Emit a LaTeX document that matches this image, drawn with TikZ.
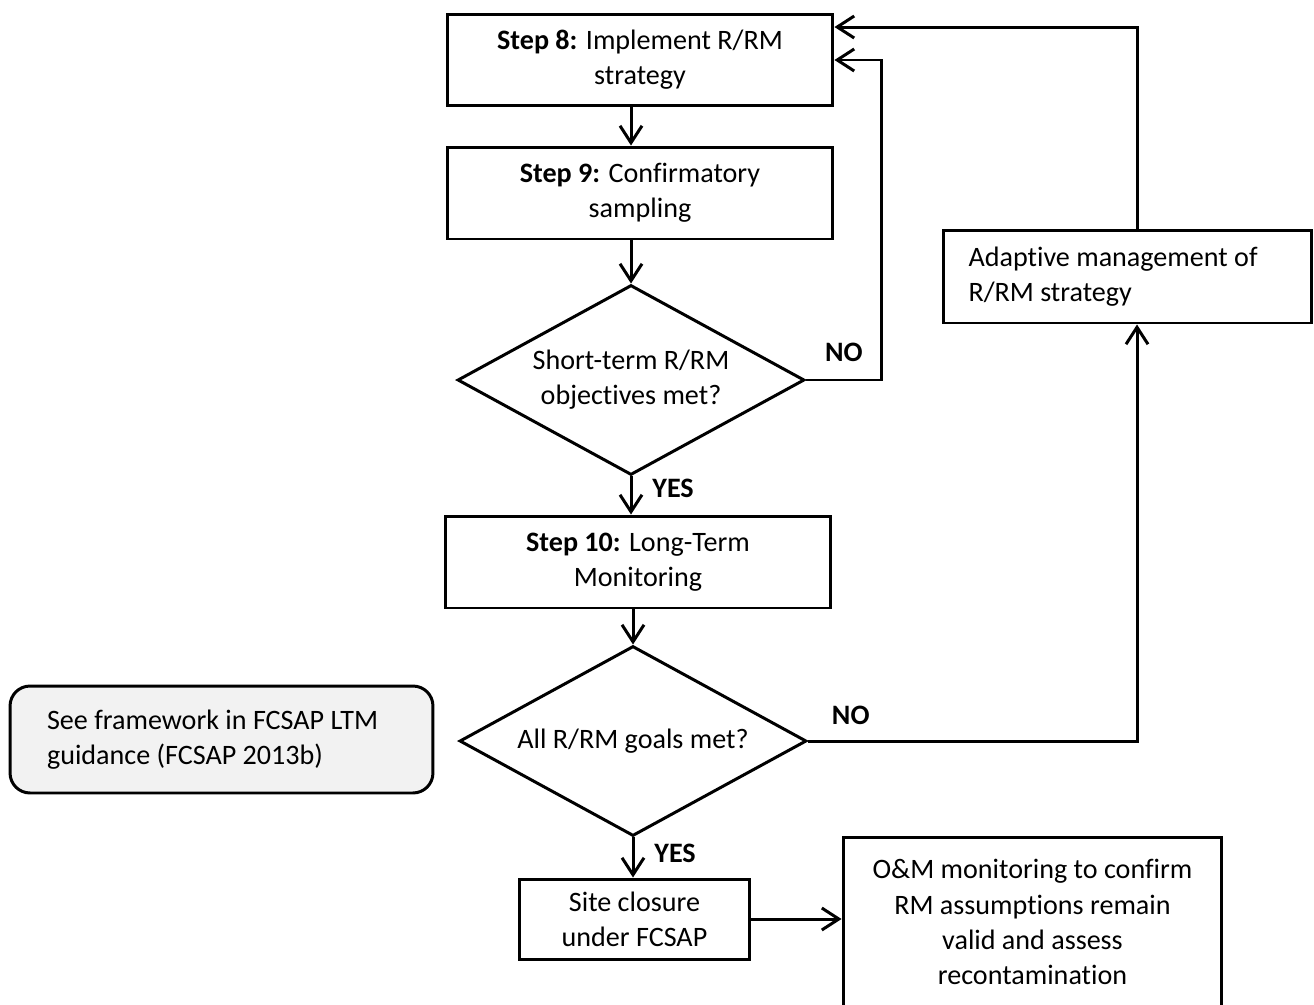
\documentclass[tikz,border=0pt]{standalone}
\usepackage{fontspec}
\setmainfont{Carlito}[Ligatures=NoCommon]
\usetikzlibrary{shapes.geometric,arrows.meta}

\begin{document}
\begin{tikzpicture}[x=0.02cm, y=-0.02cm,
                every node/.style={font=\fontsize{16pt}{20pt}\selectfont},
                stepbox/.style={draw, line width=1.7pt, minimum width=7.72cm, minimum height=1.84cm, align=center},
                decision/.style={draw, diamond, line width=1.7pt, aspect=1.83, inner sep=0pt, minimum width=6.94cm, minimum height=3.8cm, align=center},
                notebox/.style={draw, line width=1.7pt, align=flush left, inner xsep=0.5cm, minimum height=1.86cm},
                arr/.style={line width=1.7pt, -{Straight Barb[length=0.34cm, width=0.44cm]}},
                lbl/.style={font=\fontsize{16pt}{20pt}\selectfont\bfseries}]
                \useasboundingbox (0,0) rectangle (1314,1004);

                \node[stepbox] (S8) at (640,60) {\textbf{Step 8:} Implement R/RM\\strategy};
                \node[stepbox] (S9) at (640,193) {\textbf{Step 9:} Confirmatory\\sampling};
                \node[decision] (Short) at (631,380) {Short-term R/RM\\objectives met?};
                \node[stepbox] (S10) at (638,562) {\textbf{Step 10:} Long-Term\\Monitoring};
                \node[decision] (Goals) at (633,741) {All R/RM goals met?};
                \node[stepbox, minimum width=4.62cm, minimum height=1.6cm] (Closure) at (634.5,919) {Site closure\\under FCSAP};
                \node[stepbox, minimum width=7.58cm, minimum height=3.4cm] (OM) at (1032.5,922) {O\&M monitoring to confirm\\RM assumptions remain\\valid and assess\\recontamination};
                \node[notebox, text width=6.36cm] (Adapt) at (1127.5,276.5) {Adaptive management of\\R/RM strategy};
                \node[notebox, fill=gray!10, rounded corners=0.4cm, inner xsep=0.74cm, text width=6.98cm, minimum height=2.14cm] (LTM) at (221.5,739.5) {See framework in FCSAP LTM\\guidance (FCSAP 2013b)};

                \draw[arr] (S8.south -| Short.north) -- (S9.north -| Short.north);
                \draw[arr] (S9.south -| Short.north) -- (Short.north);
                \draw[arr] (Short.south) -- node[lbl, right=8pt, pos=0.3] {YES} (S10.north -| Short.south);
                \draw[arr] (S10.south -| Goals.north) -- (Goals.north);
                \draw[arr] (Goals.south) -- node[lbl, right=8pt, pos=0.4] {YES} (Closure.north -| Goals.south);
                \draw[arr] (Closure.east) -- (Closure.east -| OM.west);

                \draw[arr] (Short.east) -- node[lbl, above=6pt] {NO} ++(76,0) |- (S8.east);
                \draw[arr] (Goals.east) -- node[lbl, above=5pt, pos=0.13] {NO} ([xshift=0.19cm]Goals.east -| Adapt.south) -- ([xshift=0.19cm]Adapt.south);
                \draw[arr] ([xshift=0.19cm]Adapt.north) |- ([yshift=0.66cm]S8.east);
            \end{tikzpicture}
\end{document}
